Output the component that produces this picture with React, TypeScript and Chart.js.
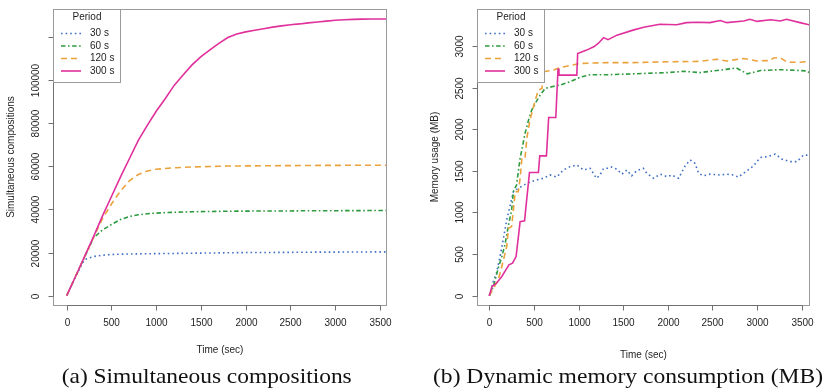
import React, { useEffect, useRef } from "react";
import { Chart, registerables } from "chart.js";
Chart.register(...registerables);

// ---------- Panel (a): simultaneous compositions ----------
const compTimes = [0, 100, 200, 300, 400, 500, 600, 700, 800, 900, 1000, 1100, 1200, 1300, 1400, 1500, 1600, 1700, 1800, 1900, 2000, 2100, 2200, 2300, 2400, 2500, 2600, 2700, 2800, 2900, 3000, 3100, 3200, 3300, 3400, 3500, 3600];
const comp30 = [0, 9000, 16800, 18200, 18800, 19100, 19250, 19350, 19400, 19450, 19500, 19550, 19600, 19650, 19700, 19750, 19800, 19850, 19900, 19950, 20000, 20000, 20050, 20050, 20100, 20100, 20150, 20150, 20200, 20200, 20200, 20250, 20250, 20250, 20300, 20300, 20300];
const comp60 = [0, 9000, 18000, 26800, 30500, 33000, 35300, 36700, 37500, 38000, 38300, 38500, 38700, 38800, 38900, 39000, 39050, 39100, 39150, 39200, 39200, 39250, 39250, 39300, 39300, 39300, 39350, 39350, 39400, 39400, 39400, 39450, 39450, 39450, 39500, 39500, 39500];
const comp120 = [0, 9000, 18000, 27000, 35800, 42500, 48500, 53300, 56200, 57800, 58600, 59000, 59300, 59500, 59700, 59800, 59900, 60000, 60100, 60100, 60200, 60200, 60250, 60250, 60300, 60300, 60350, 60350, 60400, 60400, 60400, 60450, 60450, 60450, 60500, 60500, 60500];
const comp300 = [0, 9000, 18200, 27400, 37000, 46000, 55000, 63500, 72000, 79000, 85500, 91300, 97500, 102300, 107000, 110800, 114000, 117000, 119700, 121300, 122300, 123100, 123800, 124500, 125100, 125600, 126000, 126500, 126900, 127300, 127700, 127900, 128100, 128200, 128250, 128250, 128300];
const compYTicks = [0, 20000, 40000, 60000, 80000, 100000, 120000];
const compYTickLabels = ["0", "20000", "40000", "60000", "80000", "100000", ""];

// ---------- Panel (b): dynamic memory consumption ----------
const mem30T = [0, 45, 80, 120, 155, 195, 230, 270, 325, 420, 530, 605, 680, 755, 830, 905, 980, 1055, 1130, 1200, 1240, 1280, 1320, 1370, 1430, 1485, 1540, 1595, 1650, 1725, 1765, 1840, 1915, 1990, 2045, 2120, 2195, 2250, 2305, 2345, 2400, 2475, 2585, 2660, 2735, 2790, 2885, 2960, 3035, 3110, 3205, 3280, 3370, 3445, 3520, 3600];
const mem30V = [0, 170, 270, 470, 670, 910, 1070, 1250, 1290, 1350, 1390, 1410, 1450, 1425, 1510, 1550, 1570, 1510, 1530, 1410, 1450, 1530, 1530, 1545, 1520, 1460, 1510, 1440, 1500, 1530, 1470, 1410, 1460, 1430, 1450, 1410, 1560, 1630, 1590, 1470, 1440, 1460, 1450, 1460, 1450, 1425, 1500, 1560, 1660, 1670, 1700, 1640, 1610, 1610, 1690, 1685];
const mem60T = [0, 45, 100, 140, 175, 215, 250, 270, 305, 345, 375, 400, 440, 475, 515, 570, 625, 700, 790, 905, 1020, 1130, 1330, 1610, 1990, 2180, 2360, 2550, 2770, 2890, 3040, 3260, 3480, 3560, 3600];
const mem60V = [0, 110, 330, 470, 610, 850, 1030, 1250, 1330, 1650, 1810, 1950, 2110, 2230, 2310, 2410, 2490, 2510, 2530, 2570, 2625, 2655, 2655, 2665, 2680, 2695, 2680, 2705, 2735, 2665, 2705, 2715, 2705, 2700, 2665];
const mem120T = [0, 100, 140, 195, 215, 250, 270, 290, 325, 345, 365, 400, 420, 455, 495, 515, 550, 590, 605, 720, 790, 1020, 1330, 1610, 1990, 2360, 2550, 2660, 2850, 3000, 3140, 3185, 3260, 3335, 3480, 3600];
const mem120V = [0, 190, 350, 590, 810, 830, 1030, 1250, 1250, 1410, 1650, 1650, 1890, 2110, 2270, 2350, 2470, 2490, 2690, 2710, 2740, 2790, 2800, 2800, 2810, 2815, 2840, 2820, 2850, 2820, 2825, 2855, 2860, 2805, 2805, 2815];
const mem300T = [0, 30, 80, 140, 180, 220, 260, 300, 345, 395, 405, 450, 550, 565, 640, 665, 745, 770, 780, 980, 990, 1090, 1170, 1220, 1280, 1330, 1430, 1610, 1730, 1910, 2100, 2210, 2330, 2470, 2590, 2660, 2850, 2920, 3000, 3150, 3260, 3330, 3480, 3600];
const mem300V = [0, 110, 150, 230, 300, 370, 390, 470, 890, 900, 1010, 1480, 1480, 1680, 1680, 2140, 2140, 2730, 2650, 2650, 2910, 2950, 2990, 3030, 3100, 3075, 3130, 3190, 3225, 3260, 3255, 3280, 3285, 3280, 3305, 3280, 3300, 3320, 3295, 3315, 3300, 3320, 3280, 3250];
const memYTicks = [0, 500, 1000, 1500, 2000, 2500, 3000];
const memYTickLabels = ["0", "500", "1000", "1500", "2000", "2500", "3000"];

// ---------- shared ----------
const timeTicks = [0, 500, 1000, 1500, 2000, 2500, 3000, 3500];
const timeTickLabels = ["0", "500", "1000", "1500", "2000", "2500", "3000", "3500"];
const periodLabels = ["30 s", "60 s", "120 s", "300 s"];
const legendTitle = "Period";
const xTitle = "Time (sec)";

// ---------- styles ----------
const seriesStyles = [
  { color: "#3f6fc4", dash: [1.6, 3] },
  { color: "#2e9a3e", dash: [4.5, 2.5, 1.6, 2.5] },
  { color: "#eba23c", dash: [6, 4] },
  { color: "#e0309c", dash: [] as number[] },
];
const SANS = '"Liberation Sans", Arial, sans-serif';
const SERIF = '"Liberation Serif", "Times New Roman", serif';
const BOX = "#9a9a9a";
const AXIS = "#707070";
const TEXT = "#1e1e1e";

type PanelCfg = {
  series: { t: number[]; v: number[] }[];
  yTicks: number[];
  yTickLabels: string[];
  yTitle: string;
  caption: string;
  captionCenter: number;
  captionWidth: number;
  xTitleY: number;
  padding: { left: number; right: number; top: number; bottom: number };
  xMin: number;
  xMax: number;
  yMin: number;
  yMax: number;
};

function makePlugin(cfg: PanelCfg) {
  return {
    id: "rstyle",
    afterDraw(chart: any) {
      const ctx: CanvasRenderingContext2D = chart.ctx;
      const a = chart.chartArea;
      const xs = chart.scales.x;
      const ys = chart.scales.y;
      ctx.save();
      ctx.setLineDash([]);
      // box
      ctx.strokeStyle = BOX;
      ctx.lineWidth = 1;
      ctx.strokeRect(Math.round(a.left) + 0.5, Math.round(a.top) + 0.5, Math.round(a.right - a.left) - 1, Math.round(a.bottom - a.top));
      // y axis
      ctx.strokeStyle = AXIS;
      const ax = Math.round(a.left) + 0.5;
      const yp = cfg.yTicks.map((v) => Math.round(ys.getPixelForValue(v)) + 0.5);
      ctx.beginPath();
      ctx.moveTo(ax, yp[0]);
      ctx.lineTo(ax, yp[yp.length - 1]);
      yp.forEach((p) => {
        ctx.moveTo(ax - 5, p);
        ctx.lineTo(ax, p);
      });
      // x axis
      const by = Math.round(a.bottom) + 0.5;
      const xp = timeTicks.map((v) => Math.round(xs.getPixelForValue(v)) + 0.5);
      ctx.moveTo(xp[0], by);
      ctx.lineTo(xp[xp.length - 1], by);
      xp.forEach((p) => {
        ctx.moveTo(p, by);
        ctx.lineTo(p, by + 5);
      });
      ctx.stroke();

      ctx.fillStyle = TEXT;
      ctx.font = `10px ${SANS}`;
      ctx.textAlign = "center";
      ctx.textBaseline = "middle";
      yp.forEach((p, i) => {
        ctx.save();
        ctx.translate(a.left - 17, p);
        ctx.rotate(-Math.PI / 2);
        ctx.fillText(cfg.yTickLabels[i], 0, 0);
        ctx.restore();
      });
      xp.forEach((p, i) => ctx.fillText(timeTickLabels[i], p, 323));
      // axis titles
      ctx.fillText(xTitle, (a.left + a.right) / 2, cfg.xTitleY);
      ctx.save();
      ctx.translate(a.left - 41.5, (a.top + a.bottom) / 2);
      ctx.rotate(-Math.PI / 2);
      ctx.fillText(cfg.yTitle, 0, 0);
      ctx.restore();

      // legend
      const lx = Math.round(a.left) + 0.5;
      const ly = Math.round(a.top) + 0.5;
      const lw = 67;
      const lh = 73;
      ctx.fillStyle = "#ffffff";
      ctx.fillRect(lx, ly, lw, lh);
      ctx.strokeStyle = BOX;
      ctx.strokeRect(lx, ly, lw, lh);
      ctx.fillStyle = TEXT;
      ctx.textAlign = "center";
      ctx.fillText(legendTitle, lx + 33.5, ly + 8);
      ctx.textAlign = "left";
      periodLabels.forEach((lab, i) => {
        const ry = ly + 24 + i * 12.5;
        const st = seriesStyles[i];
        ctx.strokeStyle = st.color;
        ctx.lineWidth = 1.6;
        ctx.setLineDash(st.dash);
        ctx.beginPath();
        ctx.moveTo(lx + 7.5, ry);
        ctx.lineTo(lx + 27.5, ry);
        ctx.stroke();
        ctx.setLineDash([]);
        ctx.fillText(lab, lx + 36.5, ry);
      });

      // caption
      ctx.font = `21px ${SERIF}`;
      ctx.textBaseline = "alphabetic";
      ctx.textAlign = "center";
      const m = ctx.measureText(cfg.caption).width;
      ctx.translate(cfg.captionCenter, 383);
      ctx.scale(cfg.captionWidth / m, 1);
      ctx.fillStyle = "#111";
      ctx.fillText(cfg.caption, 0, 0);
      ctx.restore();
    },
  };
}

function Panel({ cfg }: { cfg: PanelCfg }) {
  const ref = useRef<HTMLCanvasElement>(null);
  useEffect(() => {
    if (!ref.current) return;
    const chart = new Chart(ref.current, {
      type: "line",
      data: {
        datasets: cfg.series.map((s, i) => ({
          label: periodLabels[i],
          data: s.t.map((t, k) => ({ x: t, y: s.v[k] })),
          borderColor: seriesStyles[i].color,
          borderDash: seriesStyles[i].dash,
          borderWidth: 1.6,
          pointRadius: 0,
          fill: false,
          tension: 0,
          order: 3 - i,
        })),
      },
      options: {
        responsive: false,
        animation: false,
        events: [],
        layout: { padding: cfg.padding },
        plugins: { legend: { display: false }, tooltip: { enabled: false } },
        scales: {
          x: { type: "linear", min: cfg.xMin, max: cfg.xMax, display: false },
          y: { type: "linear", min: cfg.yMin, max: cfg.yMax, display: false },
        },
      },
      plugins: [makePlugin(cfg)],
    } as any);
    return () => chart.destroy();
  }, [cfg]);
  return <canvas ref={ref} width={413} height={388} style={{ display: "block", width: 413, height: 388 }} />;
}

const panelA: PanelCfg = {
  series: [
    { t: compTimes, v: comp30 },
    { t: compTimes, v: comp60 },
    { t: compTimes, v: comp120 },
    { t: compTimes, v: comp300 },
  ],
  yTicks: compYTicks,
  yTickLabels: compYTickLabels,
  yTitle: "Simultaneous compositions",
  caption: "(a) Simultaneous compositions",
  captionCenter: 206.7,
  captionWidth: 290,
  xTitleY: 350,
  padding: { left: 53, right: 26, top: 9, bottom: 83 },
  xMin: -153,
  xMax: 3578,
  yMin: -4311,
  yMax: 132917,
};

const panelB: PanelCfg = {
  series: [
    { t: mem30T, v: mem30V },
    { t: mem60T, v: mem60V },
    { t: mem120T, v: mem120V },
    { t: mem300T, v: mem300V },
  ],
  yTicks: memYTicks,
  yTickLabels: memYTickLabels,
  yTitle: "Memory usage (MB)",
  caption: "(b) Dynamic memory consumption (MB)",
  captionCenter: 215,
  captionWidth: 390,
  xTitleY: 355,
  padding: { left: 64, right: 16, top: 9, bottom: 83 },
  xMin: -138,
  xMax: 3593,
  yMin: -112,
  yMax: 3444,
};

export default function App() {
  return (
    <div style={{ position: "fixed", left: 0, top: 0, width: 826, height: 388, display: "flex", background: "#fff" }}>
      <Panel cfg={panelA} />
      <Panel cfg={panelB} />
    </div>
  );
}
